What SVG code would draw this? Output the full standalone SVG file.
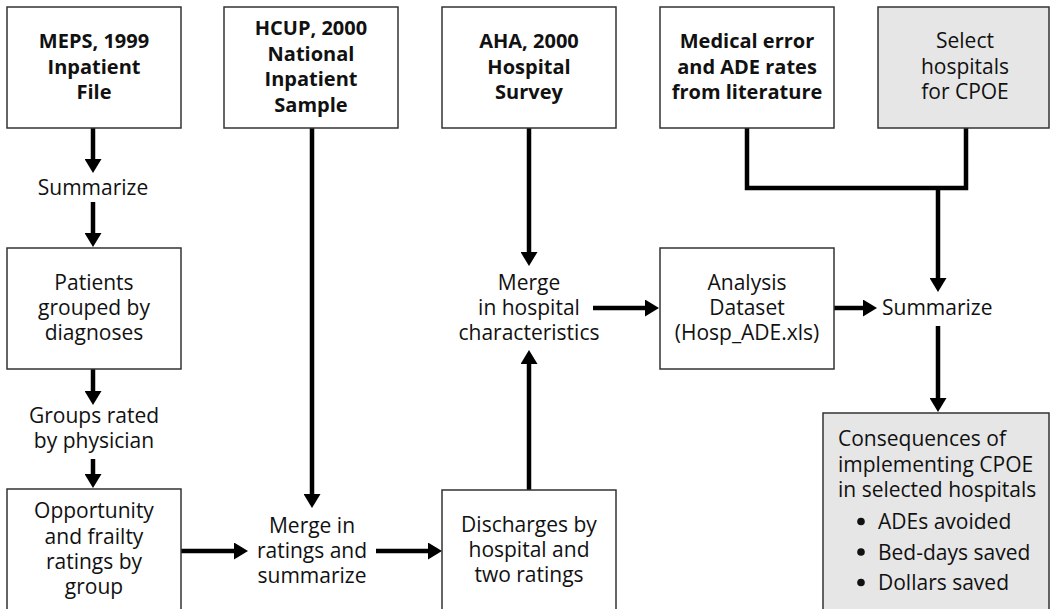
<svg xmlns="http://www.w3.org/2000/svg" width="1050" height="609" viewBox="0 0 1050 609">
<defs>
<marker id="ah" viewBox="0 0 14 17" markerWidth="14" markerHeight="17" refX="1" refY="8.5" markerUnits="userSpaceOnUse" orient="auto">
<path d="M0,0 L14,8.5 L0,17 Z" fill="#000"/>
</marker>
<style>
.box{fill:#fff;stroke:#333;stroke-width:1.5}
.gray{fill:#e6e6e6;stroke:#333;stroke-width:1.5}
text{font-family:"Open Sans","Noto Sans","DejaVu Sans",sans-serif;font-size:21px;fill:#111}
.c{text-anchor:middle}
.b{font-weight:bold;font-size:20px}
.ln{fill:none;stroke:#000;stroke-width:4.5}
.ar{fill:none;stroke:#000;stroke-width:4.5;marker-end:url(#ah)}
.dot{fill:#111}
</style>
</defs>
<rect width="1050" height="609" fill="#fff"/>

<g id="connectors">
<line class="ar" x1="93" y1="128" x2="93" y2="160"/>
<line class="ar" x1="93" y1="202" x2="93" y2="234"/>
<line class="ar" x1="93" y1="369" x2="93" y2="392"/>
<line class="ar" x1="93" y1="459" x2="93" y2="475"/>
<line class="ar" x1="312" y1="128" x2="312" y2="495"/>
<line class="ar" x1="181" y1="551" x2="235" y2="551"/>
<line class="ar" x1="376" y1="551" x2="429" y2="551"/>
<line class="ar" x1="529" y1="490" x2="529" y2="363"/>
<line class="ar" x1="529" y1="128" x2="529" y2="253"/>
<line class="ar" x1="593" y1="308" x2="646" y2="308"/>
<line class="ar" x1="834" y1="308" x2="864" y2="308"/>
<polyline class="ln" points="747,128 747,188 966,188 966,128"/>
<line class="ar" x1="938" y1="186" x2="938" y2="279"/>
<line class="ar" x1="938" y1="326" x2="938" y2="399"/>
</g>

<g id="meps">
<rect class="box" x="7" y="7" width="174" height="121"/>
<text class="c b"><tspan x="94" y="48">MEPS, 1999</tspan><tspan x="94" y="73.5">Inpatient</tspan><tspan x="94" y="99">File</tspan></text>
</g>
<g id="hcup">
<rect class="box" x="224" y="7" width="174" height="121"/>
<text class="c b"><tspan x="311" y="35">HCUP, 2000</tspan><tspan x="311" y="60.5">National</tspan><tspan x="311" y="86">Inpatient</tspan><tspan x="311" y="111.5">Sample</tspan></text>
</g>
<g id="aha">
<rect class="box" x="442" y="7" width="174" height="121"/>
<text class="c b"><tspan x="529" y="48">AHA, 2000</tspan><tspan x="529" y="73.5">Hospital</tspan><tspan x="529" y="99">Survey</tspan></text>
</g>
<g id="medical">
<rect class="box" x="660" y="7" width="174" height="121"/>
<text class="c b"><tspan x="747" y="48">Medical error</tspan><tspan x="747" y="73.5">and ADE rates</tspan><tspan x="747" y="99">from literature</tspan></text>
</g>
<g id="select">
<rect class="gray" x="878" y="7" width="171" height="121"/>
<text class="c"><tspan x="965" y="48">Select</tspan><tspan x="965" y="73.5">hospitals</tspan><tspan x="965" y="99">for CPOE</tspan></text>
</g>

<g id="summarize1">
<text class="c" x="93" y="195">Summarize</text>
</g>
<g id="patients">
<rect class="box" x="7" y="248" width="174" height="121"/>
<text class="c"><tspan x="94" y="290">Patients</tspan><tspan x="94" y="315">grouped by</tspan><tspan x="94" y="340">diagnoses</tspan></text>
</g>
<g id="groups-rated">
<text class="c"><tspan x="94" y="423">Groups rated</tspan><tspan x="94" y="448">by physician</tspan></text>
</g>
<g id="opportunity">
<rect class="box" x="7" y="489" width="174" height="140"/>
<text class="c"><tspan x="94" y="518">Opportunity</tspan><tspan x="94" y="543.5">and frailty</tspan><tspan x="94" y="568.5">ratings by</tspan><tspan x="94" y="593.5">group</tspan></text>
</g>
<g id="merge-ratings">
<text class="c"><tspan x="312" y="533">Merge in</tspan><tspan x="312" y="558">ratings and</tspan><tspan x="312" y="583">summarize</tspan></text>
</g>
<g id="discharges">
<rect class="box" x="442" y="490" width="174" height="140"/>
<text class="c"><tspan x="529" y="532">Discharges by</tspan><tspan x="529" y="557">hospital and</tspan><tspan x="529" y="582">two ratings</tspan></text>
</g>
<g id="merge-hospital">
<text class="c"><tspan x="529" y="290">Merge</tspan><tspan x="529" y="315">in hospital</tspan><tspan x="529" y="340">characteristics</tspan></text>
</g>
<g id="analysis">
<rect class="box" x="660" y="248" width="174" height="121"/>
<text class="c"><tspan x="747" y="290">Analysis</tspan><tspan x="747" y="315">Dataset</tspan><tspan x="747" y="340">(Hosp_ADE.xls)</tspan></text>
</g>
<g id="summarize2">
<text x="882" y="315">Summarize</text>
</g>
<g id="consequences">
<rect class="gray" x="823" y="413" width="226" height="220"/>
<text><tspan x="838" y="445.5">Consequences of</tspan><tspan x="838" y="471.5">implementing CPOE</tspan><tspan x="838" y="497">in selected hospitals</tspan></text>
<circle class="dot" cx="861" cy="521.5" r="3.8"/>
<circle class="dot" cx="861" cy="552" r="3.8"/>
<circle class="dot" cx="861" cy="582.5" r="3.8"/>
<text><tspan x="878" y="529">ADEs avoided</tspan><tspan x="878" y="559.5">Bed-days saved</tspan><tspan x="878" y="590">Dollars saved</tspan></text>
</g>
</svg>
